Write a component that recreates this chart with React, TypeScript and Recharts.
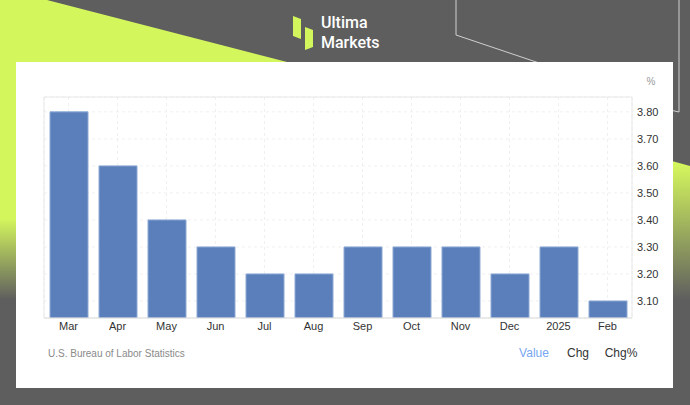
import React from 'react';
import {
  BarChart,
  Bar,
  XAxis,
  YAxis,
  CartesianGrid,
  ReferenceArea,
} from 'recharts';

// unemployment rate, monthly (Mar 2024 - Feb 2025)
const months = ['Mar', 'Apr', 'May', 'Jun', 'Jul', 'Aug', 'Sep', 'Oct', 'Nov', 'Dec', '2025', 'Feb'];
const rates = [3.8, 3.6, 3.4, 3.3, 3.2, 3.2, 3.3, 3.3, 3.3, 3.2, 3.3, 3.1];
const yTicks = [3.1, 3.2, 3.3, 3.4, 3.5, 3.6, 3.7, 3.8];
const yDomain = [3.037, 3.855];
const footerTabs = ['Value', 'Chg', 'Chg%'];

const data = months.map((m, i) => ({ month: m, value: rates[i] }));

const LIME = '#d4f65d';
const GRAY = '#5e5e5e';
const FONT = '"Liberation Sans", Arial, sans-serif';

function Background() {
  return (
    <svg width={690} height={405} style={{ position: 'absolute', left: 0, top: 0 }}>
      <defs>
        <linearGradient id="leftFade" x1="0" y1="0" x2="0" y2="405" gradientUnits="userSpaceOnUse">
          <stop offset="0" stopColor={LIME} />
          <stop offset="0.54" stopColor={LIME} />
          <stop offset="0.74" stopColor={GRAY} />
        </linearGradient>
        <linearGradient id="rightFade" x1="0" y1="150" x2="0" y2="300" gradientUnits="userSpaceOnUse">
          <stop offset="0.1" stopColor={LIME} />
          <stop offset="1" stopColor={GRAY} />
        </linearGradient>
      </defs>
      <rect x={0} y={0} width={690} height={405} fill={GRAY} />
      <polygon points="0,0 47,0 287,62 300,405 0,405" fill="url(#leftFade)" />
      <polygon points="560,130 690,166 690,405 560,405" fill="url(#rightFade)" />
      <polyline points="456,0 456,35 560,70" fill="none" stroke="#d0d0d0" strokeWidth={1} />
      <polyline points="679,0 679,112 670,110" fill="none" stroke="#d0d0d0" strokeWidth={1} />
      {/* logo mark */}
      <polygon points="293,16 301,19 301,39 293,36" fill={LIME} />
      <polygon points="305,27 313,30 313,47 305,50" fill={LIME} />
      <text x={321} y={28} fill="#ffffff" fontSize={16} fontWeight={500} fontFamily="Roboto, sans-serif">
        Ultima
      </text>
      <text x={321} y={48} fill="#ffffff" fontSize={16} fontWeight={500} fontFamily="Roboto, sans-serif">
        Markets
      </text>
    </svg>
  );
}

export default function App() {
  return (
    <div style={{ position: 'absolute', left: 0, top: 0, width: 690, height: 405, overflow: 'hidden' }}>
      <Background />
      <div
        style={{
          position: 'absolute',
          left: 16,
          top: 62,
          width: 657,
          height: 326,
          background: '#ffffff',
        }}
      />
      <div style={{ position: 'absolute', left: 0, top: 0 }}>
        <BarChart
          width={690}
          height={405}
          data={data}
          margin={{ top: 97, right: 18, left: 44, bottom: 57 }}
        >
          <CartesianGrid yAxisId="r" strokeDasharray="3 3" stroke="#f0f0f0" />
          <ReferenceArea
            yAxisId="r"
            y1={yDomain[0]}
            y2={yDomain[1]}
            fill="none"
            stroke="#e8e8e8"
          />
          <XAxis
            dataKey="month"
            axisLine={{ stroke: '#e3e3e3' }}
            tickLine={false}
            tickSize={0}
            tickMargin={4}
            height={30}
            interval={0}
            tick={{ fill: '#333333', fontSize: 11, fontFamily: FONT }}
          />
          <YAxis
            yAxisId="r"
            orientation="right"
            domain={yDomain}
            ticks={yTicks}
            allowDataOverflow
            axisLine={false}
            tickLine={false}
            tickSize={0}
            tickMargin={5}
            width={40}
            tickFormatter={(v: number) => v.toFixed(2)}
            tick={{ fill: '#333333', fontSize: 11, fontFamily: FONT, textAnchor: 'start' }}
          />
          <Bar
            yAxisId="r"
            dataKey="value"
            fill="#5a7fba"
            stroke="#8eaad6"
            strokeWidth={1}
            barSize={38}
            isAnimationActive={false}
          />
          <text x={651} y={85} textAnchor="middle" fill="#9a9a9a" fontSize={10} fontFamily={FONT}>
            %
          </text>
          <text x={48} y={357} fill="#8a8a8a" fontSize={10} fontFamily={FONT}>
            U.S. Bureau of Labor Statistics
          </text>
          {footerTabs.map((t, i) => (
            <text
              key={t}
              x={[534, 578, 621][i]}
              y={357}
              textAnchor="middle"
              fill={i === 0 ? '#78a6f2' : '#333333'}
              fontSize={12}
              fontFamily={FONT}
            >
              {t}
            </text>
          ))}
        </BarChart>
      </div>
    </div>
  );
}
